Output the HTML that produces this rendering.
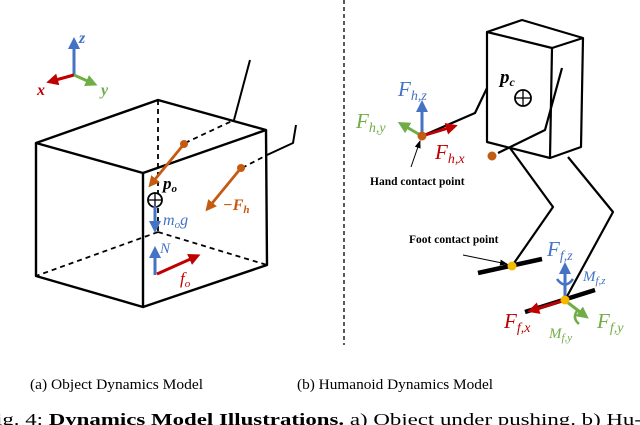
<!DOCTYPE html>
<html><head><meta charset="utf-8"><style>
html,body{margin:0;padding:0;background:#fff;width:640px;height:425px;overflow:hidden}
svg{display:block}
text{font-family:"Liberation Serif",serif}
.i{font-style:italic}
</style></head><body>
<svg width="640" height="425" viewBox="0 0 640 425" xmlns="http://www.w3.org/2000/svg">
<defs>
<marker id="ab" markerWidth="4" markerHeight="4" refX="2" refY="2" orient="auto" markerUnits="strokeWidth"><path d="M0,0 L4,2 L0,4 z" fill="#4472c4"/></marker>
<marker id="ar" markerWidth="4" markerHeight="4" refX="2" refY="2" orient="auto" markerUnits="strokeWidth"><path d="M0,0 L4,2 L0,4 z" fill="#c00000"/></marker>
<marker id="ag" markerWidth="4" markerHeight="4" refX="2" refY="2" orient="auto" markerUnits="strokeWidth"><path d="M0,0 L4,2 L0,4 z" fill="#70ad47"/></marker>
<marker id="ao" markerWidth="4" markerHeight="4" refX="2" refY="2" orient="auto" markerUnits="strokeWidth"><path d="M0,0 L4,2 L0,4 z" fill="#c55a11"/></marker>
<marker id="ak" markerWidth="8" markerHeight="8" refX="7" refY="4" orient="auto" markerUnits="userSpaceOnUse"><path d="M0,1 L8,4 L0,7 z" fill="#000"/></marker>
</defs>

<line x1="344" y1="0" x2="344" y2="345" stroke="#000" stroke-width="1.3" stroke-dasharray="4,3"/>

<g stroke-width="3">
<line x1="74" y1="75" x2="74" y2="43" stroke="#4472c4" marker-end="url(#ab)"/>
<line x1="74" y1="75" x2="52" y2="81" stroke="#c00000" marker-end="url(#ar)"/>
<line x1="74" y1="75" x2="92" y2="83" stroke="#70ad47" marker-end="url(#ag)"/>
</g>
<text x="79" y="43" class="i" font-size="16" font-weight="bold" fill="#4472c4">z</text>
<text x="37" y="95" class="i" font-size="16" font-weight="bold" fill="#c00000">x</text>
<text x="101" y="95" class="i" font-size="16" font-weight="bold" fill="#70ad47">y</text>

<g fill="none" stroke="#000" stroke-width="2.4" stroke-linejoin="round">
<path d="M36,143 L158,100 L266,130 L143,173 Z"/>
<path d="M36,143 L36,276 L143,307 L143,173"/>
<path d="M143,307 L267,265 L266,130"/>
</g>
<g fill="none" stroke="#000" stroke-width="1.8" stroke-dasharray="5,4">
<path d="M158,100 L158,232"/>
<path d="M158,232 L36,276"/>
<path d="M158,232 L267,265"/>
<path d="M185,143 L234,120"/>
<path d="M242,168 L267,155"/>
</g>
<g fill="none" stroke="#000" stroke-width="2">
<path d="M250,60 L234,120"/>
<path d="M296,125 L293,143 L267,155"/>
</g>
<g stroke="#c55a11" stroke-width="2.8">
<line x1="184" y1="144" x2="152" y2="183" marker-end="url(#ao)"/>
<line x1="241" y1="168" x2="209" y2="207" marker-end="url(#ao)"/>
</g>
<circle cx="184" cy="144" r="4" fill="#c55a11"/>
<circle cx="241" cy="168" r="4" fill="#c55a11"/>
<text x="163" y="189" class="i" font-size="17" font-weight="bold">p<tspan font-size="11" dy="3">o</tspan></text>
<text x="223" y="210" class="i" font-size="16" font-weight="bold" fill="#c55a11">−F<tspan font-size="11" dy="3">h</tspan></text>
<circle cx="155" cy="200" r="7" fill="#fff" stroke="#000" stroke-width="1.8"/>
<line x1="148" y1="200" x2="162" y2="200" stroke="#000" stroke-width="1.3"/>
<line x1="155" y1="193" x2="155" y2="207" stroke="#000" stroke-width="1.3"/>
<line x1="155" y1="206" x2="155" y2="227" stroke="#4472c4" stroke-width="3" marker-end="url(#ab)"/>
<text x="163" y="225" class="i" font-size="16" fill="#4472c4">m<tspan font-size="11" dy="3">o</tspan><tspan dy="-3">g</tspan></text>
<line x1="155" y1="275" x2="155" y2="252" stroke="#4472c4" stroke-width="3" marker-end="url(#ab)"/>
<text x="160" y="253" class="i" font-size="15" fill="#4472c4">N</text>
<line x1="157" y1="274" x2="195" y2="257" stroke="#c00000" stroke-width="3" marker-end="url(#ar)"/>
<text x="180" y="284" class="i" font-size="17" fill="#c00000">f<tspan font-size="11" dy="3">o</tspan></text>

<g fill="none" stroke="#000" stroke-width="2.2" stroke-linejoin="round">
<path d="M487,32 L552,48 L550,158 L487,142 Z"/>
<path d="M487,32 L522,20 L583,38 L552,48"/>
<path d="M583,38 L581,147 L550,158"/>
<path d="M487,88 L475,113 L422,136"/>
<path d="M562,68 L545,130 L498,153"/>
<path d="M510,148 L553,207 L512,266"/>
<path d="M568,157 L613,212 L565,300"/>
</g>
<line x1="478" y1="273" x2="542" y2="259" stroke="#000" stroke-width="4.5"/>
<line x1="525" y1="312" x2="595" y2="290" stroke="#000" stroke-width="4.5"/>
<circle cx="492" cy="156" r="4.5" fill="#c55a11"/>
<text x="500" y="83" class="i" font-size="19" font-weight="bold">p<tspan font-size="12" dy="3">c</tspan></text>
<circle cx="523" cy="98" r="8" fill="#fff" stroke="#000" stroke-width="1.8"/>
<line x1="515" y1="98" x2="531" y2="98" stroke="#000" stroke-width="1.3"/>
<line x1="523" y1="90" x2="523" y2="106" stroke="#000" stroke-width="1.3"/>

<g stroke-width="3">
<line x1="422" y1="136" x2="422" y2="106" stroke="#4472c4" marker-end="url(#ab)"/>
<line x1="422" y1="136" x2="403" y2="125" stroke="#70ad47" marker-end="url(#ag)"/>
<line x1="422" y1="136" x2="452" y2="127" stroke="#c00000" marker-end="url(#ar)"/>
</g>
<circle cx="422" cy="136" r="4.5" fill="#c55a11"/>
<text x="398" y="96" class="i" font-size="21" fill="#4472c4">F<tspan font-size="14" dy="4">h,z</tspan></text>
<text x="356" y="128" class="i" font-size="21" fill="#70ad47">F<tspan font-size="14" dy="4">h,y</tspan></text>
<text x="435" y="159" class="i" font-size="21" fill="#c00000">F<tspan font-size="14" dy="4">h,x</tspan></text>
<line x1="411" y1="167" x2="420" y2="141" stroke="#000" stroke-width="1" marker-end="url(#ak)"/>
<text x="370" y="185" font-size="11.5" font-weight="bold">Hand contact point</text>
<text x="409" y="243" font-size="11.5" font-weight="bold">Foot contact point</text>
<line x1="463" y1="255" x2="507" y2="264" stroke="#000" stroke-width="1" marker-end="url(#ak)"/>

<g stroke-width="3">
<line x1="565" y1="298" x2="565" y2="268" stroke="#4472c4" marker-end="url(#ab)"/>
<line x1="565" y1="300" x2="533" y2="310" stroke="#c00000" marker-end="url(#ar)"/>
<line x1="567" y1="302" x2="584" y2="315" stroke="#70ad47" marker-end="url(#ag)"/>
</g>
<path d="M557,279 Q565,290 573,279" fill="none" stroke="#4472c4" stroke-width="2.5"/>
<path d="M577,311 Q572,318 579,324" fill="none" stroke="#70ad47" stroke-width="2.5"/>
<circle cx="512" cy="266" r="4.5" fill="#f5b800"/>
<circle cx="565" cy="300" r="4.5" fill="#f5b800"/>
<text x="547" y="256" class="i" font-size="21" fill="#4472c4">F<tspan font-size="14" dy="4">f,z</tspan></text>
<text x="583" y="281" class="i" font-size="15" fill="#4472c4">M<tspan font-size="11" dy="3">f,z</tspan></text>
<text x="504" y="328" class="i" font-size="21" fill="#c00000">F<tspan font-size="14" dy="4">f,x</tspan></text>
<text x="597" y="328" class="i" font-size="21" fill="#70ad47">F<tspan font-size="14" dy="4">f,y</tspan></text>
<text x="549" y="338" class="i" font-size="15" fill="#70ad47">M<tspan font-size="11" dy="3">f,y</tspan></text>

<text x="30" y="389" font-size="15" textLength="173" lengthAdjust="spacingAndGlyphs">(a) Object Dynamics Model</text>
<text x="297" y="389" font-size="15" textLength="196" lengthAdjust="spacingAndGlyphs">(b) Humanoid Dynamics Model</text>
<text x="-4" y="425" font-size="17" textLength="646" lengthAdjust="spacingAndGlyphs">ig. 4: <tspan font-weight="bold">Dynamics Model Illustrations.</tspan> a) Object under pushing. b) Hu-</text>
</svg>
</body></html>
